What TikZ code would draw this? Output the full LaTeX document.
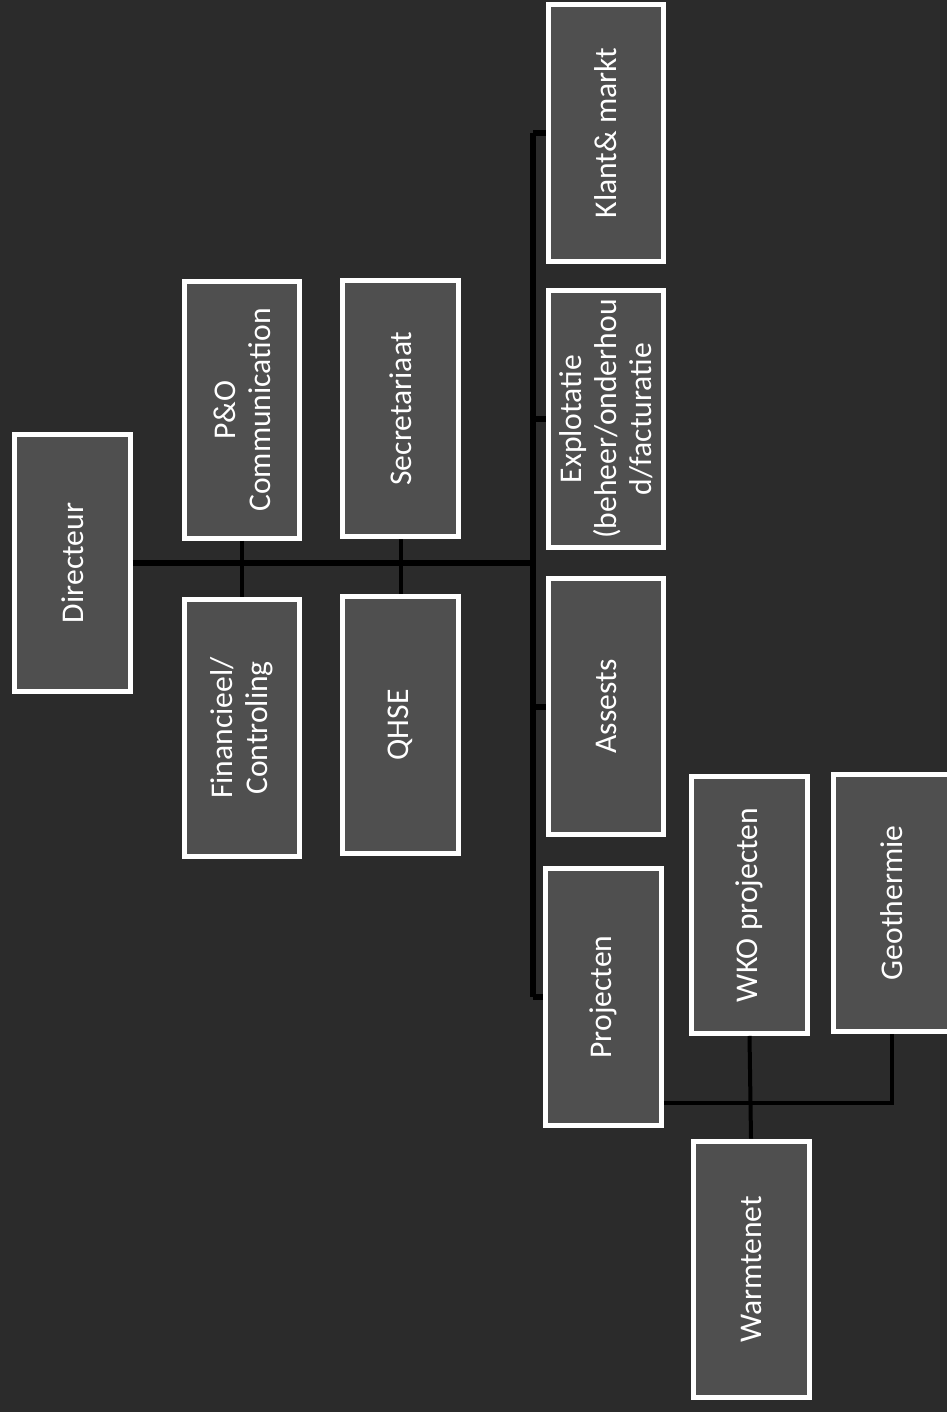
\documentclass[tikz,border=0pt]{standalone}
\usepackage{fontspec}
\setmainfont{Carlito}
\usetikzlibrary{calc}
\definecolor{bgdark}{gray}{0.17}
\definecolor{boxfill}{gray}{0.31}

\begin{document}
\begin{tikzpicture}[x=0.02cm,y=0.02cm,
  unit/.style={draw=white,line width=0.1cm,fill=boxfill,text=white,rotate=90,
    minimum width=5.14cm,minimum height=2.32cm,align=center,inner sep=2pt,
    font=\fontsize{18}{20}\selectfont},
  link/.style={black,line width=0.12cm},
  sublink/.style={black,line width=0.08cm}]
\fill[bgdark] (0,0) rectangle (947,-1412);
\useasboundingbox (0,0) rectangle (947,-1412);

% top and staff
\node[unit] (dir) at (72.5,-563) {Directeur};
\node[unit] (po) at (242,-410) {P\&O\\Communication};
\node[unit] (fin) at (242,-728) {Financieel/\\Controling};
\node[unit] (sec) at (400.5,-408.5) {Secretariaat};
\node[unit] (qhse) at (400.5,-725) {QHSE};

% departments
\node[unit] (klant) at (606,-133) {Klant\& markt};
\node[unit] (expl) at (606,-419) {Explotatie\\(beheer/onderhou\\d/facturatie};
\node[unit] (assets) at (606,-706.5) {Assests};
\node[unit] (proj) at (603.5,-997) {Projecten};

% projecten
\node[unit] (wko) at (749.5,-905) {WKO projecten};
\node[unit] (geo) at (891.5,-903) {Geothermie};
\node[unit] (warm) at (751,-1269.5) {Warmtenet};

\coordinate (bustop) at (533,-133);
\coordinate (busbot) at (533,-997);
\coordinate (projbus) at (891.5,-1103);

\draw[link] (bustop) -- (busbot);
\draw[link] (dir.south) -- (dir.south -| bustop);
\draw[sublink] (po.west) -- (fin.east);
\draw[sublink] (sec.west) -- (qhse.east);
\foreach \d in {klant,expl,assets,proj}
  \draw[link] (\d.north) -- (\d.north -| bustop);

\draw[sublink] (proj.south |- projbus) -- (projbus) -- (geo.west);
\draw[sublink] (wko.west) -- (warm.east);
\end{tikzpicture}
\end{document}
